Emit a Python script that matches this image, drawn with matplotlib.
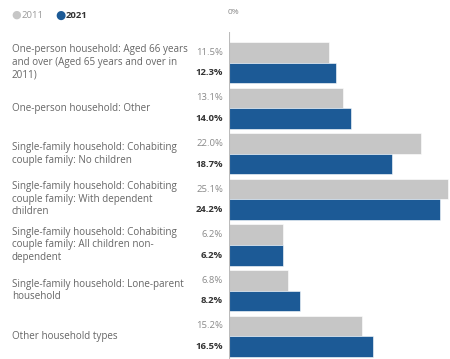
import matplotlib.pyplot as plt

plt.rcParams['font.family'] = ['Open Sans', 'DejaVu Sans']

categories = [
    "One-person household: Aged 66 years\nand over (Aged 65 years and over in\n2011)",
    "One-person household: Other",
    "Single-family household: Cohabiting\ncouple family: No children",
    "Single-family household: Cohabiting\ncouple family: With dependent\nchildren",
    "Single-family household: Cohabiting\ncouple family: All children non-\ndependent",
    "Single-family household: Lone-parent\nhousehold",
    "Other household types",
]
values_2011 = [11.5, 13.1, 22.0, 25.1, 6.2, 6.8, 15.2]
values_2021 = [12.3, 14.0, 18.7, 24.2, 6.2, 8.2, 16.5]

grey = '#c6c6c6'
blue = '#1c5a96'
W, H = 450, 359

fig = plt.figure(figsize=(4.5, 3.59), dpi=100)
ax = fig.add_axes([229 / W, 0, 221 / W, 327 / H])

bh = 0.45
ys = list(range(len(categories)))
ax.barh([y - bh / 2 for y in ys], values_2011, height=bh, color=grey,
        edgecolor='white', linewidth=0.4)
ax.barh([y + bh / 2 for y in ys], values_2021, height=bh, color=blue,
        edgecolor='white', linewidth=0.4)

ax.set_xlim(0, 25.35)
ax.set_ylim(6.5, -0.67)
ax.axis('off')
ax.axvline(0, color='#bbbbbb', lw=0.8)

for y, cat, a, b in zip(ys, categories, values_2011, values_2021):
    ax.annotate(cat, xy=(0, y), xycoords=('axes fraction', 'data'),
                xytext=(12 - 229, 0), textcoords='offset pixels',
                ha='left', va='center', fontsize=7.1, color='#666666',
                linespacing=1.2)
    ax.annotate(f"{a:.1f}%", xy=(0, y - bh / 2), xytext=(-6, 0),
                textcoords='offset pixels', ha='right', va='center',
                fontsize=6.8, color='#8a8a8a')
    ax.annotate(f"{b:.1f}%", xy=(0, y + bh / 2), xytext=(-6, 0),
                textcoords='offset pixels', ha='right', va='center',
                fontsize=6.8, color='#333333', fontweight='bold')

# legend and axis label along the top
fig.text(16 / W, 1 - 15 / H, '\u25cf', color=grey, fontsize=8, ha='center', va='center')
fig.text(22 / W, 1 - 15 / H, '2011', color='#999999', fontsize=6.8, va='center')
fig.text(60 / W, 1 - 15 / H, '\u25cf', color=blue, fontsize=8.5, ha='center', va='center')
fig.text(66 / W, 1 - 15 / H, '2021', color='#333333', fontsize=6.8,
         fontweight='bold', va='center')
fig.text(233 / W, 1 - 13 / H, '0%', color='#888888', fontsize=6, ha='center', va='center')

fig.savefig('out.png', dpi=100)
